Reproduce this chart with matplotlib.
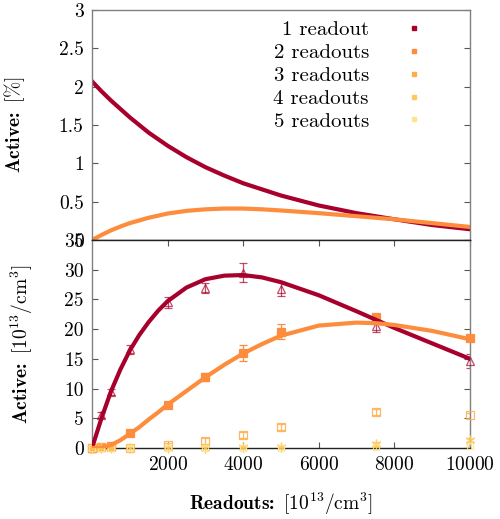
import matplotlib
matplotlib.use("Agg")
import matplotlib.pyplot as plt
from matplotlib.ticker import FuncFormatter, FixedLocator

plt.rcParams['font.family'] = ['cmr10', 'DejaVu Serif']
plt.rcParams['mathtext.fontset'] = 'cm'
plt.rcParams['axes.formatter.use_mathtext'] = True
plt.rcParams['axes.unicode_minus'] = False

# ---------------- data ----------------
labels = ["1 readout", "2 readouts", "3 readouts", "4 readouts", "5 readouts"]
colors = ["#a8002c", "#fd8d3c", "#fdae4b", "#fec95a", "#fee490"]

# top panel fitted curves (percent)
x_top = [0, 250, 500, 750, 1000, 1500, 2000, 2500, 3000, 3500, 4000, 4500, 5000, 6000, 7000, 8000, 9000, 10000]
red_top = [2.07, 1.94, 1.82, 1.71, 1.60, 1.40, 1.23, 1.08, 0.95, 0.84, 0.74, 0.66, 0.58, 0.45, 0.35, 0.27, 0.195, 0.14]
orange_top = [0.0, 0.065, 0.125, 0.175, 0.22, 0.29, 0.345, 0.38, 0.40, 0.41, 0.41, 0.40, 0.385, 0.35, 0.31, 0.27, 0.22, 0.17]

# bottom panel fitted curves
x_fit = [0, 250, 500, 750, 1000, 1250, 1500, 1750, 2000, 2500, 3000, 3500, 4000, 4500, 5000, 6000, 7000, 7500, 8000, 9000, 10000]
red_fit = [0, 5.0, 9.5, 13.2, 16.4, 19.0, 21.2, 23.1, 24.7, 27.0, 28.4, 29.0, 29.1, 28.7, 27.9, 25.7, 23.0, 21.6, 20.2, 17.6, 15.0]
orange_fit = [0, 0.1, 0.5, 1.3, 2.4, 3.5, 4.8, 6.0, 7.3, 9.6, 11.9, 14.0, 15.9, 17.5, 18.9, 20.6, 21.1, 21.0, 20.7, 19.7, 18.3]

# measured points
x_pts = [0, 250, 500, 1000, 2000, 3000, 4000, 5000, 7500, 10000]
y1 = [0, 5.5, 9.5, 16.6, 24.5, 26.9, 29.5, 26.8, 20.5, 14.7]
e1 = [0, 0.5, 0.5, 0.8, 0.9, 0.8, 1.6, 1.2, 1.0, 1.2]
y2 = [0, 0.2, 0.4, 2.5, 7.3, 11.9, 16.0, 19.6, 22.0, 18.5]
e2 = [0, 0.1, 0.2, 0.3, 0.4, 0.7, 1.4, 1.2, 0.6, 0.5]
y3 = [0, 0.1, 0.1, 0.05, 0.5, 1.2, 2.2, 3.5, 6.0, 5.5]
e3 = [0, 0.1, 0.1, 0.1, 0.4, 0.5, 0.5, 0.5, 0.5, 0.4]
y4 = [0, 0.0, 0.0, 0.0, 0.05, 0.05, 0.1, 0.15, 0.6, 1.3]
e4 = [0, 0.0, 0.0, 0.0, 0.2, 0.2, 0.2, 0.3, 0.4, 0.4]
y5 = [0, 0.0, 0.0, 0.0, 0.0, 0.0, 0.0, 0.0, 0.2, 0.3]
e5 = [0, 0.0, 0.0, 0.0, 0.0, 0.0, 0.0, 0.0, 0.2, 0.2]

top_yticks = [0, 0.5, 1, 1.5, 2, 2.5, 3]
bot_yticks = [0, 5, 10, 15, 20, 25, 30, 35]
xticks = [2000, 4000, 6000, 8000, 10000]

# ---------------- figure ----------------
fig = plt.figure(figsize=(5.0, 5.19), dpi=100)
ax1 = fig.add_axes([0.184, 0.5376, 0.756, 0.4431])
ax2 = fig.add_axes([0.184, 0.1368, 0.756, 0.4008])

FS = 14
gray = "#808080"

def fmt(v, pos):
    if abs(v - round(v)) < 1e-9:
        return str(int(round(v)))
    return ("%g" % v)

for ax in (ax1, ax2):
    ax.set_xlim(0, 10000)
    ax.tick_params(direction='in', length=4, width=0.8, color='#555555',
                   labelsize=FS, pad=6, left=True, right=True)
    for s in ('left', 'right', 'top'):
        ax.spines[s].set_color(gray)
        ax.spines[s].set_linewidth(1.0)
    ax.spines['bottom'].set_color('#222222')
    ax.spines['bottom'].set_linewidth(1.0)
    ax.yaxis.set_major_formatter(FuncFormatter(fmt))

# top panel
ax1.set_ylim(0, 3)
ax1.yaxis.set_major_locator(FixedLocator(top_yticks))
ax1.tick_params(axis='x', bottom=False, top=False, labelbottom=False)
ax1.plot(x_top, red_top, color=colors[0], lw=3.0, solid_joinstyle='round')
ax1.plot(x_top, orange_top, color=colors[1], lw=3.0, solid_joinstyle='round')
ax1.set_ylabel(r"Active: $\,[\%]$", fontsize=FS, fontfamily='cmb10')
ax1.yaxis.set_label_coords(-0.172, 0.5)

handles = [ax1.plot([], [], ls='none', marker='s', ms=2.5, color=c, mec=c)[0] for c in colors]
leg = ax1.legend(handles, labels, loc='upper right', bbox_to_anchor=(0.931, 0.955),
                 markerfirst=False, frameon=False, fontsize=15, handlelength=2.9,
                 handletextpad=0.7, labelspacing=0.21, borderaxespad=0, borderpad=0)

# bottom panel
ax2.set_ylim(0, 35)
ax2.yaxis.set_major_locator(FixedLocator(bot_yticks))
ax2.xaxis.set_major_locator(FixedLocator(xticks))
ax2.tick_params(axis='x', top=True, bottom=True)
ax2.spines['top'].set_color('#222222')

markers = ['^', 's', 's', (6, 2, 0), 's']
ys = [y1, y2, y3, y4, y5]
es = [e1, e2, e3, e4, e5]
fills = ['none', colors[1], 'none', colors[3], 'none']
alphas = [0.7, 1.0, 0.85, 0.9, 0.9]
sizes = [6, 6, 6, 7, 5]
for i in range(5):
    ax2.errorbar(x_pts, ys[i], yerr=es[i], fmt='none', ecolor=colors[i], elinewidth=0.9,
                 capsize=3, capthick=0.9, alpha=alphas[i], zorder=2)
    ax2.plot(x_pts, ys[i], ls='none', marker=markers[i], ms=sizes[i], mfc=fills[i],
             mec=colors[i], mew=0.9, alpha=alphas[i], zorder=3, clip_on=False)

ax2.plot(x_fit, red_fit, color=colors[0], lw=3.0, zorder=4, solid_joinstyle='round')
ax2.plot(x_fit, orange_fit, color=colors[1], lw=3.0, zorder=4, solid_joinstyle='round')

ax2.set_ylabel(r"Active: $\,[10^{13}/\mathrm{cm}^3]$", fontsize=FS, fontfamily='cmb10')
ax2.yaxis.set_label_coords(-0.15, 0.5)
ax2.set_xlabel(r"Readouts: $\,[10^{13}/\mathrm{cm}^3]$", fontsize=FS, fontfamily='cmb10',
               labelpad=12)

fig.savefig("out.png", dpi=100)
